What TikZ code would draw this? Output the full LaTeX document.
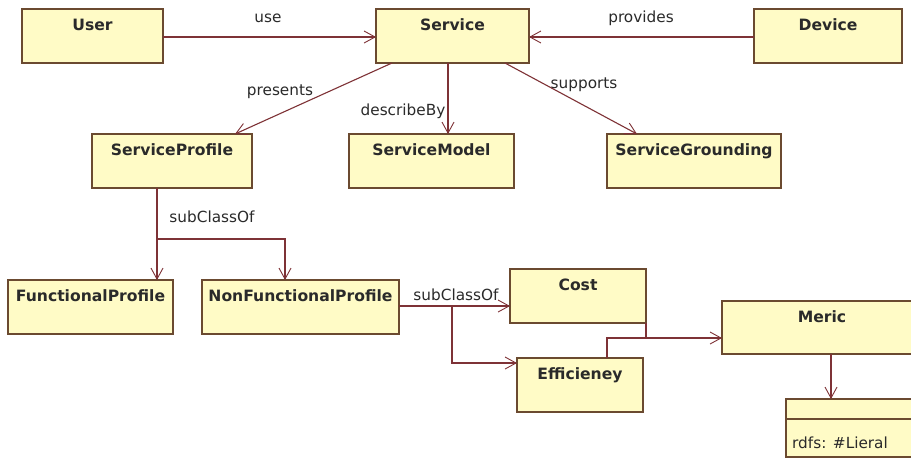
\documentclass[tikz,border=0pt]{standalone}
\usepackage{fontspec}
\setmainfont{DejaVu Sans}
\usetikzlibrary{arrows.meta}
\definecolor{boxfill}{HTML}{FFFBC6}
\definecolor{boxline}{HTML}{6B4A30}
\definecolor{linkline}{HTML}{7E3236}
\definecolor{txt}{HTML}{2A2A2A}
\tikzset{
  cls/.style={draw=boxline, fill=boxfill, line width=1.2pt, inner sep=0pt},
  clstitle/.style={anchor=north, inner sep=0pt, text=txt,
    font=\fontsize{15.6}{18}\selectfont\bfseries, yshift=-9.5pt},
  rel/.style={draw=linkline, line width=1.1pt},
  relarrow/.style={rel, -{Straight Barb[length=11pt,width=12pt,line width=0.9pt]}},
  rellabel/.style={inner sep=0pt, text=txt, font=\fontsize{15.3}{17}\selectfont}
}
\newcommand{\classbox}[5]{%
  \path[cls] (#2,#3) rectangle (#4,#5);
  \node[inner sep=0pt, outer sep=0pt, minimum width={(#4-#2)*1pt}, minimum height={(#5-#3)*1pt}, anchor=north west] (#1) at (#2,#3) {};
}
\begin{document}
\begin{tikzpicture}[x=1pt, y=-1pt]
\clip (0,0) rectangle (911,458);
\fill[white] (0,0) rectangle (911,458);

% classes
\classbox{user}{22}{9}{163}{63}
\classbox{service}{376}{9}{529}{63}
\classbox{device}{754}{9}{902}{63}
\classbox{sprofile}{92}{134}{252}{188}
\classbox{smodel}{349}{134}{514}{188}
\classbox{sground}{607}{134}{781}{188}
\classbox{fprofile}{8}{280}{173}{334}
\classbox{nfprofile}{202}{280}{399}{334}
\classbox{cost}{510}{269}{646}{323}
\classbox{eff}{517}{358}{643}{412}
\classbox{meric}{722}{301}{922}{354}
\classbox{literal}{786}{399}{940}{457}
\draw[boxline, line width=1.2pt] (literal.west |- 0,419) -- (literal.east |- 0,419);

\node[clstitle] (userT) at (user.north) {User};
\node[clstitle] (serviceT) at (service.north) {Service};
\node[clstitle] (deviceT) at (device.north) {Device};
\node[clstitle] (sprofileT) at (sprofile.north) {ServiceProfile};
\node[clstitle] (smodelT) at (smodel.north) {ServiceModel};
\node[clstitle] (sgroundT) at (sground.north) {ServiceGrounding};
\node[clstitle] (fprofileT) at (fprofile.north) {FunctionalProfile};
\node[clstitle] (nfprofileT) at (nfprofile.north) {NonFunctionalProfile};
\node[clstitle] (costT) at (cost.north) {Cost};
\node[clstitle] (effT) at (eff.north) {Efficieney};
\node[clstitle] (mericT) at (meric.north) {Meric};
\node[rellabel, anchor=base west] (literalT) at (792,448) {rdfs: \#Lieral};

% associations
\draw[relarrow] (user.east |- 0,37) -- (service.west |- 0,37);
\draw[relarrow] (device.west |- 0,37) -- (service.east |- 0,37);
\draw[relarrow] (392,63) -- (235,134);
\draw[relarrow] (448,63) -- (448,134);
\draw[relarrow] (505,63) -- (637,134);

\node[rellabel] (useL) at (268,18) {use};
\node[rellabel] (providesL) at (641,18) {provides};
\node[rellabel] (presentsL) at (280,92) {presents};
\node[rellabel] (describeL) at (403,111) {describeBy};
\node[rellabel] (supportsL) at (584,85) {supports};

% subclass branches
\coordinate (spBranch) at (157,239);
\draw[relarrow] (157,188) -- (157,280);
\draw[relarrow] (spBranch) -- (285,239) -- (285,280);
\node[rellabel] (sub1L) at (212,217) {subClassOf};

\coordinate (nfBranch) at (452,306);
\draw[relarrow] (nfprofile.east |- 0,306) -- (cost.west |- 0,306);
\draw[relarrow] (nfBranch) -- (452,363) -- (eff.west |- 0,363);
\node[rellabel] (sub2L) at (456,295) {subClassOf};

% cost / efficiency to metric
\draw[rel] (646,323) -- (646,338);
\draw[relarrow] (607,358) -- (607,338) -- (meric.west |- 0,338);

% metric to literal
\draw[relarrow] (831,354) -- (831,399);
\end{tikzpicture}
\end{document}
